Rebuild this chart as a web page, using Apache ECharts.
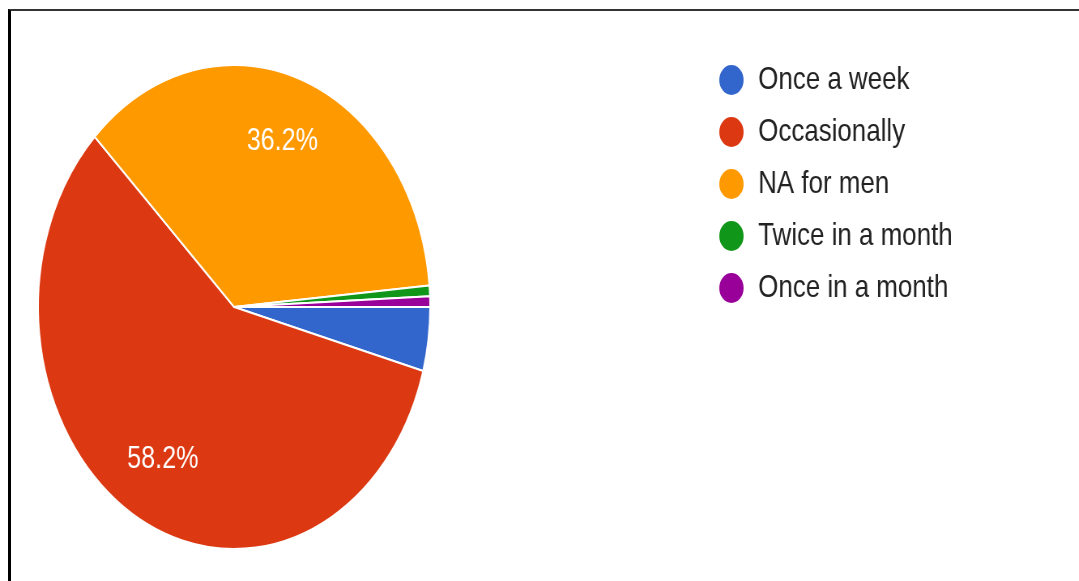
<!DOCTYPE html>
<html>
<head>
<meta charset="utf-8">
<script src="https://cdn.jsdelivr.net/npm/echarts@6/dist/echarts.min.js"></script>
<style>
  html, body { margin: 0; padding: 0; width: 1079px; height: 581px; overflow: hidden; background: #fff; }
  #chart { position: absolute; left: 0; top: 0; width: 1332px; height: 581px; transform: scaleX(0.81); transform-origin: 0 0; }
  #frame { position: absolute; left: 8px; top: 9px; width: 1200px; height: 700px; border-top: 2px solid #333; border-left: 3px solid #000; pointer-events: none; }
</style>
</head>
<body>
<div id="chart"></div>
<div id="frame"></div>
<script>
const categories = ['Once a week', 'Occasionally', 'NA for men', 'Twice in a month', 'Once in a month'];
const values = [6, 82, 51, 1, 1];
const colors = ['#3366CC', '#DC3912', '#FF9900', '#109618', '#990099'];

const pieData = categories.map((name, i) => ({ name: name, value: values[i] }));

const chart = echarts.init(document.getElementById('chart'), null, { renderer: 'canvas' });
chart.setOption({
  backgroundColor: 'transparent',
  color: colors,
  animation: false,
  legend: {
    orient: 'vertical',
    left: 881,
    top: 58,
    icon: 'circle',
    itemWidth: 56,
    itemHeight: 32,
    itemGap: 18,
    data: categories,
    textStyle: { fontFamily: 'Liberation Sans, Arial, sans-serif', fontSize: 32, lineHeight: 32, color: '#222' }
  },
  series: [
    {
      type: 'pie',
      center: [289, 307],
      radius: [0, 242],
      startAngle: 0,
      clockwise: true,
      data: pieData,
      label: { show: false },
      labelLine: { show: false },
      itemStyle: { borderColor: '#fff', borderWidth: 2 },
      emphasis: { disabled: true }
    },
    {
      type: 'pie',
      center: [289, 307],
      radius: [104, 242],
      startAngle: 0,
      clockwise: true,
      silent: true,
      percentPrecision: 1,
      data: pieData,
      itemStyle: { color: 'rgba(0,0,0,0)', borderWidth: 0 },
      label: {
        show: true,
        position: 'inside',
        fontFamily: 'Liberation Sans, Arial, sans-serif',
        fontSize: 31,
        color: '#fff',
        formatter: p => (p.percent >= 5 ? p.percent.toFixed(1) + '%' : '')
      },
      labelLine: { show: false },
      emphasis: { disabled: true }
    }
  ]
});
</script>
</body>
</html>
